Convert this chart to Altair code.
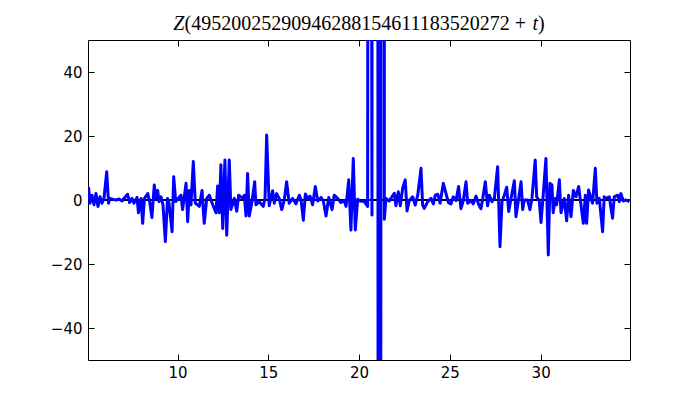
import altair as alt
import pandas as pd

# Z(t) samples (t offset, Z value)
t_vals = [
    5.10, 5.18, 5.29, 5.40, 5.51, 5.62, 5.73, 5.84, 5.95, 6.10, 6.20, 6.28, 6.45, 6.61, 6.78, 6.94,
    7.05, 7.25, 7.36, 7.49, 7.60, 7.77, 7.85, 7.99, 8.08, 8.18, 8.36, 8.48, 8.59, 8.72, 8.81, 8.91,
    8.98, 9.09, 9.20, 9.33, 9.45, 9.53, 9.70, 9.79, 9.90, 10.03, 10.19,
    10.28, 10.47, 10.56, 10.65, 10.74, 10.87, 10.98, 11.20, 11.35, 11.47, 11.61, 11.75, 11.94, 12.12,
    12.21, 12.30, 12.39, 12.49, 12.61, 12.71, 12.85, 12.94, 13.13, 13.26, 13.37, 13.59, 13.68, 13.77,
    13.86, 13.95, 14.10, 14.25, 14.32, 14.50, 14.72, 14.82, 14.91, 15.05,
    15.24, 15.33, 15.46, 15.60, 15.74, 15.88, 16.01, 16.15, 16.34, 16.52, 16.71, 16.80, 16.93, 17.04,
    17.17, 17.30, 17.44, 17.59, 17.72, 17.90, 18.03, 18.18, 18.33, 18.51, 18.63, 18.82, 19.00, 19.18,
    19.28, 19.43, 19.55, 19.68, 19.79, 19.92, 20.05,
    20.29, 20.47, 20.56, 20.71, 20.80, 21.12, 21.37, 21.39,
    21.48, 21.66, 21.81, 21.94, 22.03, 22.16, 22.27, 22.40, 22.54, 22.64, 22.76, 22.95, 23.09, 23.23,
    23.41, 23.50, 23.59, 23.78, 23.96, 24.09, 24.20, 24.33, 24.46, 24.64,
    24.81, 24.92, 25.06, 25.19, 25.34, 25.48, 25.61, 25.74, 25.89, 25.98, 26.16, 26.29, 26.44, 26.59,
    26.71, 26.81, 26.95, 27.08, 27.17, 27.32, 27.45, 27.63, 27.76, 27.87, 28.00, 28.13, 28.24, 28.36,
    28.55, 28.64, 28.79, 28.92, 29.01, 29.10, 29.28, 29.41, 29.52, 29.70, 29.78, 29.92, 30.02,
    30.14, 30.29, 30.42, 30.51, 30.62, 30.69, 30.80, 30.88, 31.03, 31.12, 31.30, 31.43, 31.54, 31.67,
    31.80, 31.94, 32.09, 32.22, 32.35, 32.46, 32.53, 32.64, 32.77, 32.86, 33.01, 33.10, 33.23, 33.41,
    33.50, 33.60, 33.78, 33.96, 34.05, 34.24, 34.33, 34.42, 34.55, 34.70, 34.89,
]
z_vals = [
    4.0, -1.0, 1.5, -1.5, 2.0, -2.0, 1.0, -1.0, 0.5, 8.8, -1.0, 0.5, 0.2, 0.0, 0.3, -0.3,
    0.5, 1.8, -0.8, 0.5, -1.0, 0.8, -4.0, 0.5, -7.3, 0.5, 2.0, -1.0, -5.5, 4.7, 0.5, 3.0,
    -0.5, 1.0, -1.5, -13.0, 0.5, -1.0, -9.9, 7.3, -0.5, 0.5, 1.5,
    -3.0, 5.2, -6.8, 3.0, -1.5, 12.0, -1.0, -2.0, 3.0, -7.3, 0.5, 1.5, -1.5, -4.0,
    4.4, -4.0, 11.0, -8.9, 12.5, -11.0, 12.5, -3.0, 0.5, -3.5, 1.5, 0.5, 1.5, -5.0,
    8.3, -5.0, -0.5, 5.7, -1.5, -0.5, -2.0, 0.5, 20.3, -1.8,
    2.9, -1.0, 2.0, 0.5, -3.0, 0.0, 5.7, -1.0, 0.5, -1.2, 1.5, 0.2, -6.3, 1.9,
    0.5, 1.2, -1.5, 4.2, -0.3, 0.8, -0.3, -5.0, 0.8, -3.0, 1.5, 0.5, -0.8, -0.2,
    -2.0, 6.3, -9.4, 13.0, -9.4, 0.2, -0.3,
    -0.5, -2.0, 600.0, -4.7, 3000.0, -1000.0, 2125.0, -6.0,
    0.5, -0.3, 1.0, 2.1, -1.8, 2.6, -1.8, 3.7, 6.3, -3.4, -0.2, 1.0, -1.6, 1.5,
    9.9, -1.6, -2.6, -0.5, 0.5, -1.2, 1.5, 1.8, -1.0, 5.2,
    1.5, -0.8, -1.2, 1.0, -0.2, 4.2, -2.7, -0.2, 5.7, -1.0, -0.2, -1.2, 1.2, -1.5,
    -2.7, 0.5, 5.7, -1.8, 1.5, -0.5, 0.5, 10.4, -14.6, -0.5, 1.5, 4.0, -3.6, 0.2,
    6.0, -5.2, 0.5, 5.7, -3.0, 0.0, 0.0, -3.0, 0.5, 12.5, 1.0, -0.2, -7.0,
    1.5, 13.0, -17.2, 5.2, 4.7, -4.0, 0.5, -1.5, 6.3, -4.0, 0.5, -6.5, 1.5, -5.2,
    3.0, 1.0, 4.2, -1.5, -7.3, 1.5, -7.3, 3.1, 0.5, -1.0, 9.9, -1.0, 0.5, -9.9,
    1.0, 0.5, 1.0, -5.7, 1.0, 1.5, -0.5, 2.0, -0.3, 0.0, -0.5,
]

x_ticks = [10, 15, 20, 25, 30]
y_ticks = [-40, -20, 0, 20, 40]
x_domain = [5.07, 34.92]
y_domain = [-50, 50]

# title pieces: (text, italic?)
title_parts = [("Z", True), ("(49520025290946288154611183520272 +", False), ("t", True), (")", False)]
# advance widths (em) of the pieces in a Times-metric serif, plus the gap after each piece
title_widths = [0.556, 0.333 + 32 * 0.5 + 0.25 + 0.564, 0.278, 0.333]
title_gaps = [0.0, 0.25, 0.0, 0.0]
TITLE_SIZE = 20
PLOT_W, PLOT_H = 542, 320

df = pd.DataFrame({"t": t_vals, "z": z_vals})

xs = alt.Scale(domain=x_domain, nice=False, zero=False)
ys = alt.Scale(domain=y_domain, nice=False, zero=False)

axis_common = dict(grid=False, domain=False, tickSize=6, tickColor="black", tickWidth=1,
                   labelColor="black", labelFont="DejaVu Sans", labelFontSize=15, offset=-6)

zero = alt.Chart(df).mark_rule(color="black", strokeWidth=1).encode(
    y=alt.Y(datum=0, scale=ys, axis=None),
)

line = alt.Chart(df).mark_line(color="#0000ff", strokeWidth=3, clip=True, strokeJoin="round").encode(
    x=alt.X("t:Q", scale=xs, title=None,
            axis=alt.Axis(orient="bottom", values=x_ticks, labelPadding=5, **axis_common)),
    y=alt.Y("z:Q", scale=ys, title=None,
            axis=alt.Axis(orient="left", values=y_ticks, labelPadding=6, **axis_common)),
)

mirror = alt.Chart(df).mark_point(opacity=0).encode(
    x=alt.X("t:Q", scale=xs, title=None,
            axis=alt.Axis(orient="top", values=x_ticks, labels=False, **axis_common)),
    y=alt.Y("z:Q", scale=ys, title=None,
            axis=alt.Axis(orient="right", values=y_ticks, labels=False, **axis_common)),
)

total_w = sum(w + g for w, g in zip(title_widths, title_gaps)) * TITLE_SIZE
cursor = PLOT_W / 2 - total_w / 2
title_layers = []
for (txt, italic), w, g in zip(title_parts, title_widths, title_gaps):
    title_layers.append(
        alt.Chart(pd.DataFrame({"label": [txt]})).mark_text(
            font="Liberation Serif", fontSize=TITLE_SIZE, color="black", align="left",
            baseline="alphabetic", fontStyle="italic" if italic else "normal",
        ).encode(text="label:N", x=alt.value(cursor), y=alt.value(-10))
    )
    cursor += (w + g) * TITLE_SIZE

chart = alt.layer(zero, line, mirror, *title_layers).resolve_axis(x="independent", y="independent").properties(
    width=PLOT_W, height=PLOT_H,
    autosize=alt.AutoSizeParams(type="none"),
    padding={"left": 80, "top": 32, "right": 62, "bottom": 32},
).configure(background="white").configure_view(stroke="black", strokeWidth=1)

chart.save("out.html", embed_options={"renderer": "svg", "actions": False})
